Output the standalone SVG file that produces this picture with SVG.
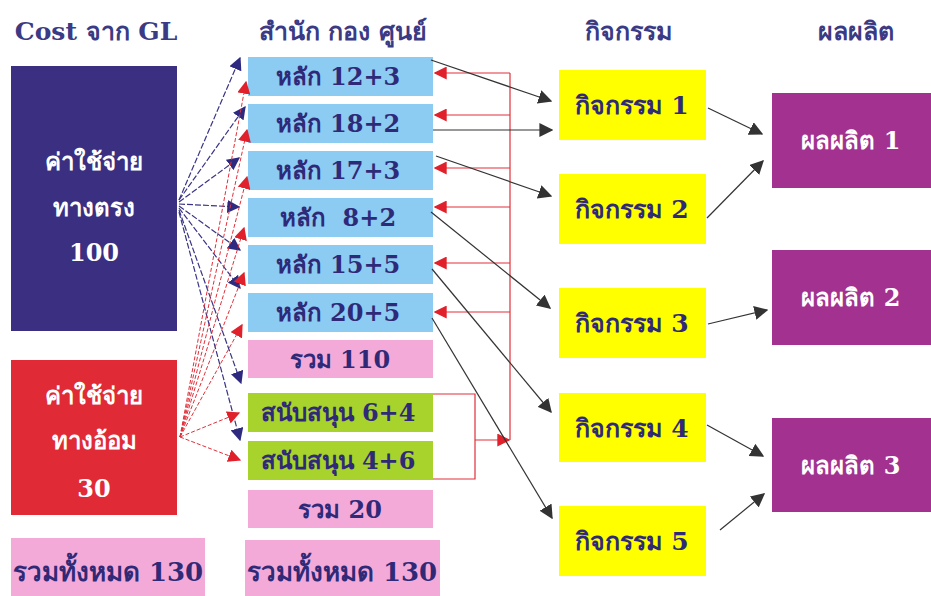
<svg xmlns="http://www.w3.org/2000/svg" width="931" height="596" viewBox="0 0 931 596">
<style>
text{font-family:"DejaVu Serif","Liberation Serif","Noto Sans",serif;font-weight:bold;text-anchor:middle}
.hd{font-size:25px;fill:#3b3a84}
.t{font-size:24px;fill:#2f2a78}
.a{font-size:25px;fill:#2f2a78}
.w{font-size:24px;fill:#ffffff}
.tt{font-size:26px;fill:#2f2a78}
.lb{fill:#8ccbf2}.pk{fill:#f4aad8}.gr{fill:#a8d22c}.ye{fill:#ffff00}.pu{fill:#a2318f}
.bl{stroke:#3a3585;stroke-width:1.2;fill:none;stroke-dasharray:6 2;marker-end:url(#mb)}
.rd{stroke:#e0303a;stroke-width:1;fill:none;stroke-dasharray:4 2;marker-end:url(#mr)}
.fb{stroke:#e0303a;stroke-width:1.2;fill:none}
.fa{stroke:#e0303a;stroke-width:1.2;fill:none;marker-end:url(#mr)}
.bk{stroke:#333333;stroke-width:1.2;fill:none;marker-end:url(#mk)}
</style>
<defs>
<marker id="mb" viewBox="0 0 10 10" refX="9" refY="5" markerWidth="13" markerHeight="13" orient="auto" markerUnits="userSpaceOnUse"><path d="M0,0 L10,5 L0,10 z" fill="#2e2a80"/></marker>
<marker id="mr" viewBox="0 0 10 10" refX="9" refY="5" markerWidth="13" markerHeight="13" orient="auto" markerUnits="userSpaceOnUse"><path d="M0,0 L10,5 L0,10 z" fill="#e0202a"/></marker>
<marker id="mk" viewBox="0 0 10 10" refX="9" refY="5" markerWidth="14" markerHeight="14" orient="auto" markerUnits="userSpaceOnUse"><path d="M0,0 L10,5 L0,10 z" fill="#333333"/></marker>
</defs>
<rect width="931" height="596" fill="#ffffff"/>
<g id="headers">
<text class="hd" x="96" y="40">Cost จาก GL</text>
<text class="hd" x="343" y="40">สำนัก กอง ศูนย์</text>
<text class="hd" x="628" y="40">กิจกรรม</text>
<text class="hd" x="856" y="40">ผลผลิต</text>
</g>
<g id="direct"><rect x="11" y="66" width="166" height="265" fill="#3a2f80"/><text class="w" x="94" y="170">ค่าใช้จ่าย</text><text class="w" x="94" y="216">ทางตรง</text><text class="w" x="94" y="261">100</text></g>
<g id="indirect"><rect x="11" y="360" width="166" height="155" fill="#e02a35"/><text class="w" x="94" y="404">ค่าใช้จ่าย</text><text class="w" x="94" y="449">ทางอ้อม</text><text class="w" x="94" y="497">30</text></g>
<g id="total-left"><rect x="11" y="538" width="194" height="58" class="pk"/><text class="tt" x="108" y="581">รวมทั้งหมด 130</text></g>
<g id="m1"><rect x="248" y="57" width="185" height="39" class="lb"/><text class="t" x="338" y="85">หลัก 12+3</text></g>
<g id="m2"><rect x="248" y="104" width="185" height="39" class="lb"/><text class="t" x="338" y="132">หลัก 18+2</text></g>
<g id="m3"><rect x="248" y="151" width="185" height="39" class="lb"/><text class="t" x="338" y="179">หลัก 17+3</text></g>
<g id="m4"><rect x="248" y="198" width="185" height="39" class="lb"/><text class="t" x="338" y="226" xml:space="preserve">หลัก  8+2</text></g>
<g id="m5"><rect x="248" y="245" width="185" height="39" class="lb"/><text class="t" x="338" y="273">หลัก 15+5</text></g>
<g id="m6"><rect x="248" y="293" width="185" height="39" class="lb"/><text class="t" x="338" y="321">หลัก 20+5</text></g>
<g id="sum110"><rect x="248" y="340" width="185" height="38" class="pk"/><text class="t" x="340" y="368">รวม 110</text></g>
<g id="s1"><rect x="248" y="393" width="185" height="39" class="gr"/><text class="t" x="338" y="421">สนับสนุน 6+4</text></g>
<g id="s2"><rect x="248" y="441" width="185" height="39" class="gr"/><text class="t" x="338" y="469">สนับสนุน 4+6</text></g>
<g id="sum20"><rect x="248" y="490" width="185" height="38" class="pk"/><text class="t" x="340" y="518">รวม 20</text></g>
<g id="total-mid"><rect x="245" y="540" width="195" height="56" class="pk"/><text class="tt" x="342" y="581">รวมทั้งหมด 130</text></g>
<g id="a1"><rect x="559" y="70" width="147" height="70" class="ye"/><text class="a" x="632" y="114">กิจกรรม 1</text></g>
<g id="a2"><rect x="559" y="174" width="147" height="70" class="ye"/><text class="a" x="632" y="218">กิจกรรม 2</text></g>
<g id="a3"><rect x="559" y="288" width="147" height="70" class="ye"/><text class="a" x="632" y="332">กิจกรรม 3</text></g>
<g id="a4"><rect x="559" y="393" width="147" height="69" class="ye"/><text class="a" x="632" y="437">กิจกรรม 4</text></g>
<g id="a5"><rect x="559" y="506" width="147" height="70" class="ye"/><text class="a" x="632" y="550">กิจกรรม 5</text></g>
<g id="o1"><rect x="772" y="93" width="159" height="95" class="pu"/><text class="w" x="851" y="149">ผลผลิต 1</text></g>
<g id="o2"><rect x="772" y="250" width="159" height="95" class="pu"/><text class="w" x="851" y="306">ผลผลิต 2</text></g>
<g id="o3"><rect x="772" y="418" width="159" height="94" class="pu"/><text class="w" x="851" y="474">ผลผลิต 3</text></g>
<g id="connectors">
<path class="bl" d="M179,200 L240,58"/>
<path class="bl" d="M179,200 L245,107"/>
<path class="bl" d="M179,202 L239,158"/>
<path class="bl" d="M179,204 L239,207"/>
<path class="bl" d="M179,206 L240,250"/>
<path class="bl" d="M179,208 L240,288"/>
<path class="bl" d="M179,210 L241,383"/>
<path class="bl" d="M179,212 L240,440"/>
<path class="rd" d="M180,437 L246,82"/>
<path class="rd" d="M180,437 L247,130"/>
<path class="rd" d="M180,437 L247,177"/>
<path class="rd" d="M180,437 L244,228"/>
<path class="rd" d="M180,437 L244,273"/>
<path class="rd" d="M180,437 L242,325"/>
<path class="rd" d="M180,437 L239,413"/>
<path class="rd" d="M180,437 L240,460"/>
<path class="fb" d="M510,73 L510,440"/>
<path class="fa" d="M510,73 L435,73"/>
<path class="fa" d="M510,115 L435,115"/>
<path class="fa" d="M510,168 L435,168"/>
<path class="fa" d="M510,207 L435,207"/>
<path class="fa" d="M510,263 L435,263"/>
<path class="fa" d="M510,312 L435,312"/>
<path class="fb" d="M433,394 L475,394 L475,479 L433,479"/>
<path class="fa" d="M475,440 L509,440"/>
<path class="bk" d="M431,60 L551,101"/>
<path class="bk" d="M433,130 L552,130"/>
<path class="bk" d="M436,156 L551,196"/>
<path class="bk" d="M431,212 L550,308"/>
<path class="bk" d="M432,269 L551,412"/>
<path class="bk" d="M432,318 L552,518"/>
<path class="bk" d="M708,108 L762,134"/>
<path class="bk" d="M707,218 L763,161"/>
<path class="bk" d="M708,324 L767,310"/>
<path class="bk" d="M707,425 L763,456"/>
<path class="bk" d="M720,530 L764,494"/>
</g>
</svg>
